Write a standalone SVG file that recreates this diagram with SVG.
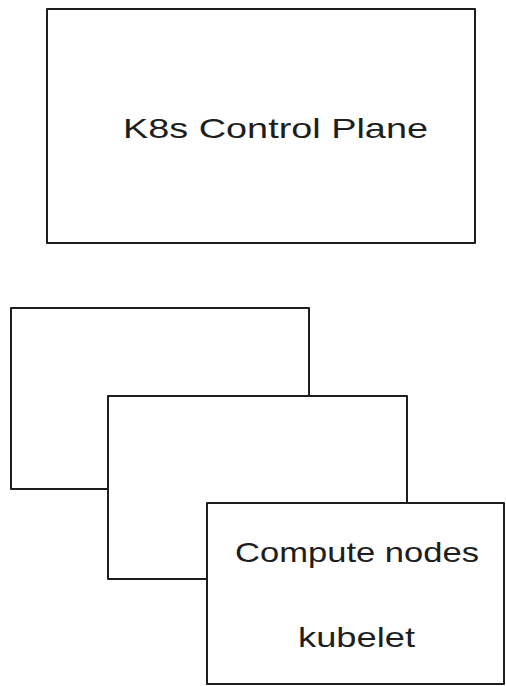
<svg xmlns="http://www.w3.org/2000/svg" width="506" height="686" viewBox="0 0 506 686">
<style>
.box{fill:#ffffff;stroke:#1e1e1e;stroke-width:2;stroke-linejoin:round}
.lbl{font-family:"Liberation Sans","DejaVu Sans",sans-serif;font-size:28px;fill:#1e1e1e}
</style>
<rect width="506" height="686" fill="#ffffff"/>
<g id="control-plane">
<rect class="box" x="47" y="9" width="428" height="234"/>
<text class="lbl" x="123" y="138" textLength="305" lengthAdjust="spacingAndGlyphs">K8s Control Plane</text>
</g>
<g id="node-back">
<rect class="box" x="11" y="308" width="298" height="181"/>
</g>
<g id="node-middle">
<rect class="box" x="108" y="396" width="299" height="183"/>
</g>
<g id="compute-nodes">
<rect class="box" x="207" y="503" width="297" height="181"/>
<text class="lbl" x="235" y="562" textLength="244" lengthAdjust="spacingAndGlyphs">Compute nodes</text>
<text class="lbl" x="298" y="647" textLength="117" lengthAdjust="spacingAndGlyphs">kubelet</text>
</g>
<g id="connectors"/>
</svg>
